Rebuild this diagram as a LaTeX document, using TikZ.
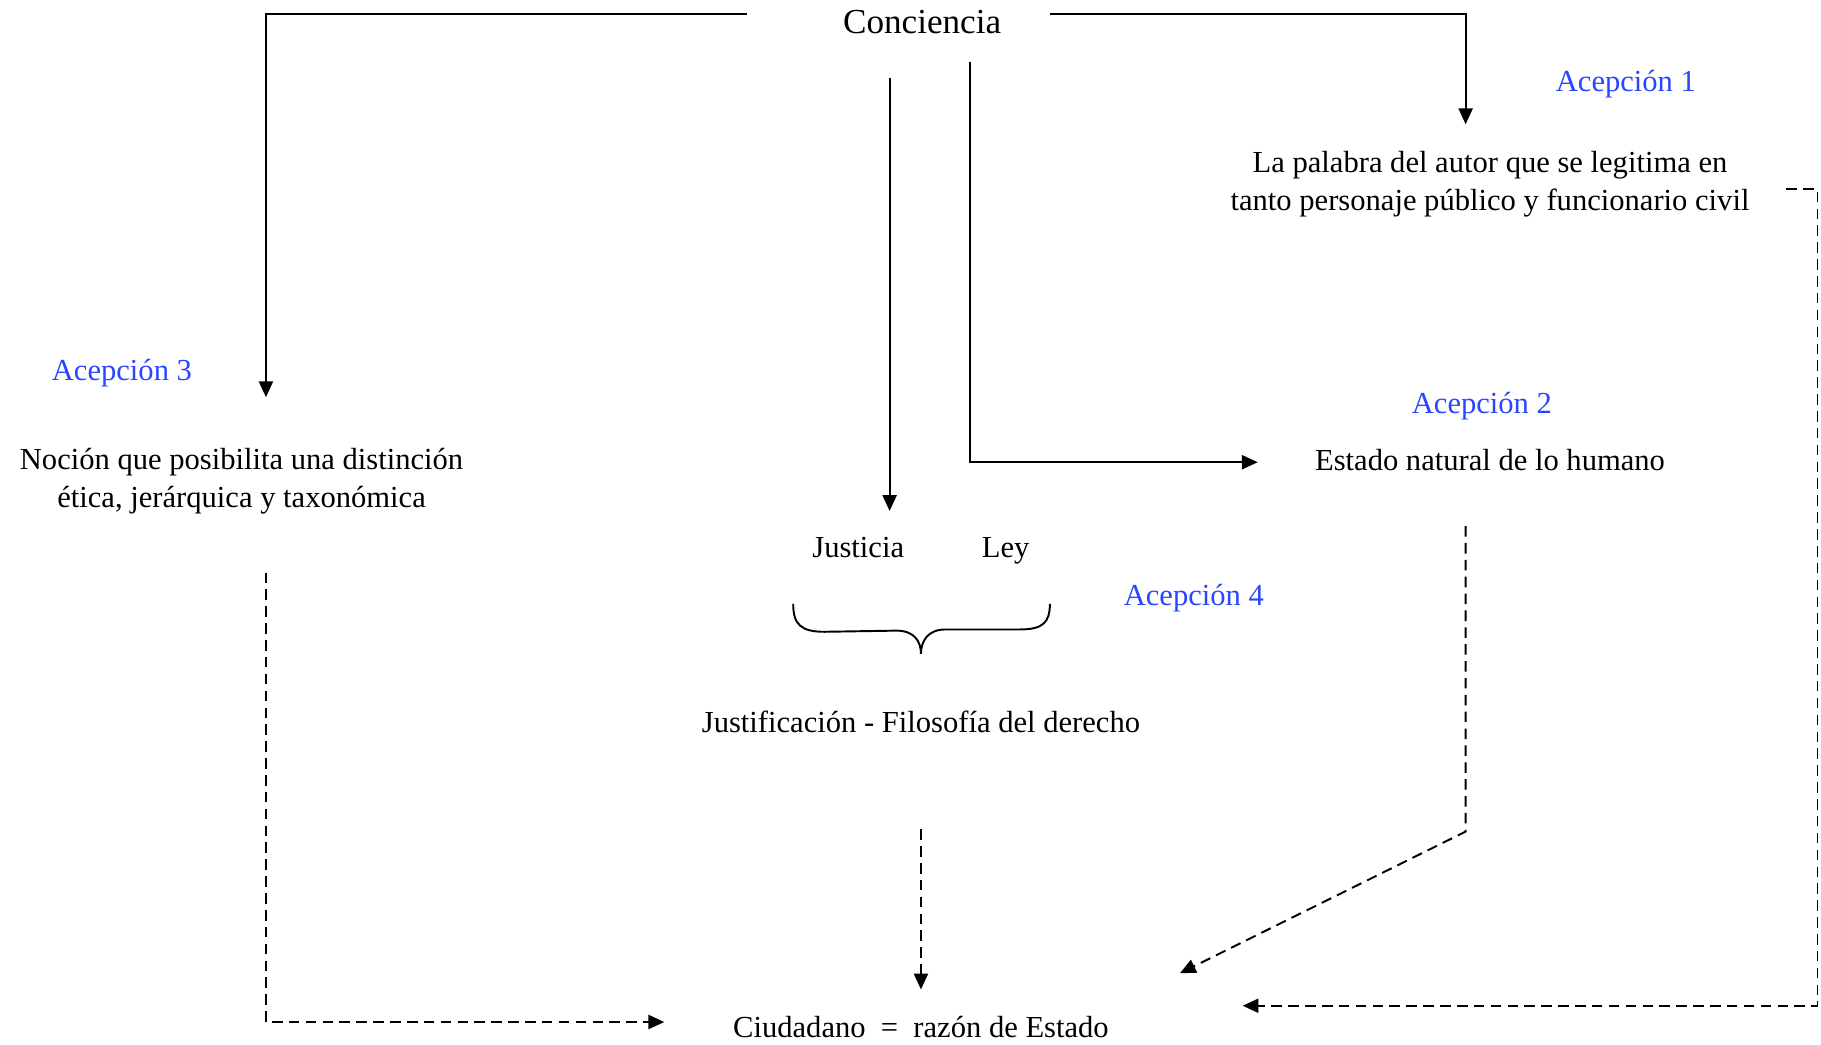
\documentclass[tikz,border=0pt]{standalone}
\usepackage{fontspec}
\setmainfont{Liberation Serif}
\usetikzlibrary{arrows.meta}
\definecolor{acepazul}{RGB}{40,70,255}
\tikzset{
	texto/.style={font=\fontsize{8.7}{10.8}\selectfont, align=center, inner sep=0pt, text height=1.6ex, text depth=.3ex},
	acep/.style={texto, text=acepazul},
	flecha/.style={-{Triangle[length=4.5pt,width=4pt]}, line width=0.55pt},
	flechad/.style={flecha, dash pattern=on 3pt off 1.8pt},
}
\begin{document}
\begin{tikzpicture}[x=0.11614mm, y=-0.11614mm]
	\useasboundingbox (0,0) rectangle (1568,899);
	% textos
	\node[texto, font=\fontsize{10}{12}\selectfont] (conc) at (794,20) {Conciencia};
	\node[acep] (acep1) at (1400,70) {Acepción 1};
	\node[texto] (palabra) at (1283,172) {La palabra del autor que se legitima en\\tanto personaje público y funcionario civil};
	\node[acep] (acep3) at (105,319) {Acepción 3};
	\node[texto] (nocion) at (208,428) {Noción que posibilita una distinción\\ética, jerárquica y taxonómica};
	\node[acep] (acep2) at (1276,347) {Acepción 2};
	\node[texto] (estado) at (1283,396) {Estado natural de lo humano};
	\node[texto] (just) at (739,471) {Justicia};
	\node[texto] (ley) at (866,471) {Ley};
	\node[acep] (acep4) at (1028,512) {Acepción 4};
	\node[texto] (filo) at (793,622) {Justificación - Filosofía del derecho};
	\node[texto] (ciud) at (793,884) {Ciudadano~~=~~razón de Estado};
	% extremos
	\coordinate (cI) at (643,12);
	\coordinate (cD) at (904,12);
	\coordinate (cJ) at (766,67);
	\coordinate (cE) at (835,53);
	\coordinate (a3) at (229,342);
	\coordinate (a1) at (1262,107);
	\coordinate (aJ) at (766,440);
	\coordinate (aE) at (1083,398);
	% flechas desde Conciencia
	\draw[flecha] (cI) -| (a3);
	\draw[flecha] (cD) -| (a1);
	\draw[flecha] (cJ) -- (aJ);
	\draw[flecha] (cE) |- (aE);
	% llave
	\draw[line width=0.55pt] (683,520) .. controls (683,538) and (690,544) .. (710,544) -- (772,543)
		.. controls (787,543) and (793,552) .. (793,563)
		.. controls (793,552) and (799,542) .. (814,542) -- (878,542)
		.. controls (898,542) and (904,536) .. (904,520);
	% flechas hacia Ciudadano
	\coordinate (d1) at (1538,163);
	\coordinate (d3) at (1070,866);
	\draw[flechad] (d1) -- ++(27,0) |- (d3);
	\coordinate (n1) at (229,493);
	\coordinate (n2) at (572,880);
	\draw[flechad] (n1) |- (n2);
	\coordinate (f1) at (793,714);
	\coordinate (f2) at (793,852);
	\draw[flechad] (f1) -- (f2);
	\coordinate (e1) at (1262,453);
	\coordinate (e2) at (1016,838);
	\draw[flechad] (e1) -- ++(0,263) -- (e2);
\end{tikzpicture}
\end{document}
